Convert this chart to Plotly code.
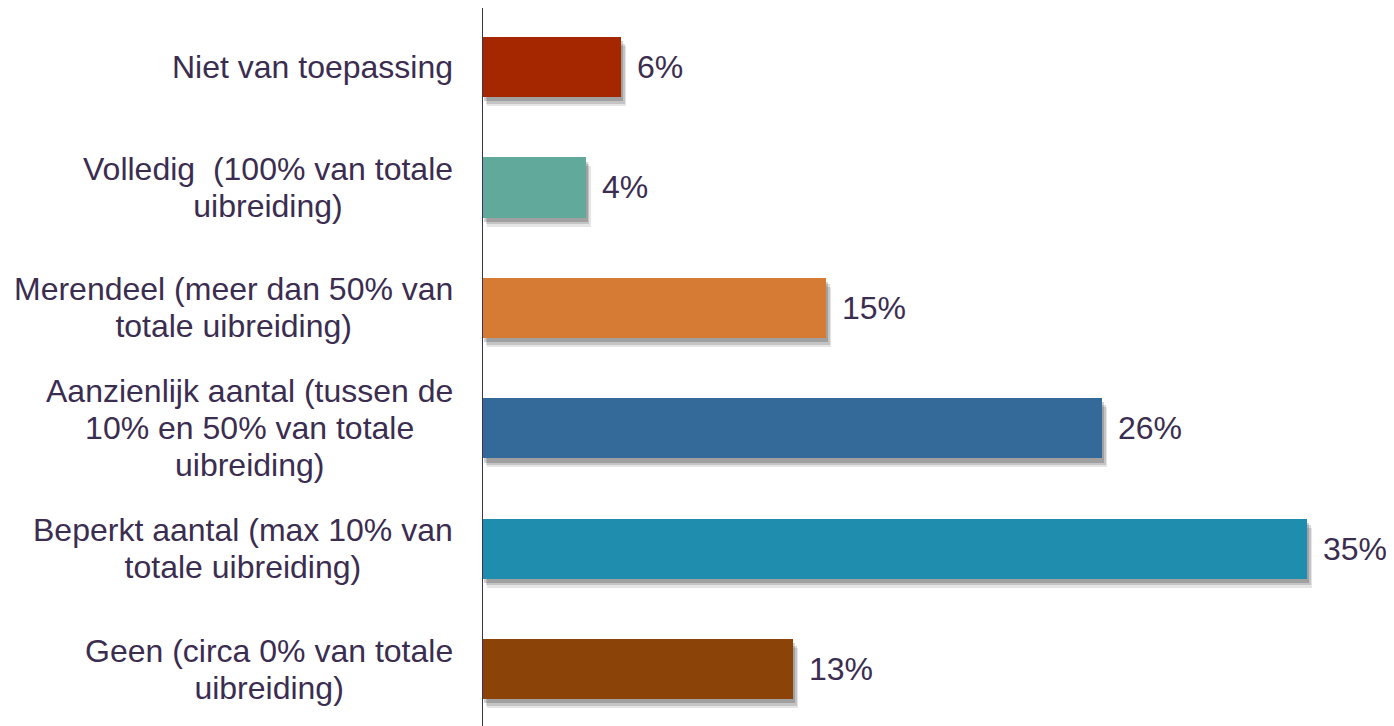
import plotly.graph_objects as go

categories = [
    "Niet van toepassing",
    "Volledig  (100% van totale<br>uibreiding)",
    "Merendeel (meer dan 50% van<br>totale uibreiding)",
    "Aanzienlijk aantal (tussen de<br>10% en 50% van totale<br>uibreiding)",
    "Beperkt aantal (max 10% van<br>totale uibreiding)",
    "Geen (circa 0% van totale<br>uibreiding)",
]
values = [5.9, 4.4, 14.6, 26.3, 35.0, 13.2]
value_labels = ["6%", "4%", "15%", "26%", "35%", "13%"]
colors = ["#A52700", "#60A99B", "#D67B33", "#336A99", "#1F8DAD", "#8B4308"]

TEXT = "#3B2D4F"
FONT = "Liberation Sans, Arial, sans-serif"
FS = 32          # glyph size
LINE_FS = 28.5   # base size controlling line spacing (1.3em -> ~37px)

idx = list(range(len(categories)))

fig = go.Figure()
# soft drop shadow layers
for alpha, dx, dy in [(0.10, 0.22, 0.075), (0.14, 0.16, 0.055), (0.18, 0.10, 0.035)]:
    fig.add_trace(go.Bar(
        y=[i + dy for i in idx], x=values, base=dx, orientation="h", width=0.5,
        marker=dict(color=f"rgba(0,0,0,{alpha})", line=dict(width=0)),
        hoverinfo="skip", showlegend=False,
    ))
fig.add_trace(go.Bar(
    y=idx, x=values, orientation="h", width=0.5,
    marker=dict(color=colors, line=dict(width=0)),
    showlegend=False,
))


def styled(text):
    return "<br>".join(f"<span style='font-size:{FS}px'>{ln}</span>" for ln in text.split("<br>"))


annotations = []
for i, (cat, v, lab) in enumerate(zip(categories, values, value_labels)):
    annotations.append(dict(
        x=0, y=i, xref="x", yref="y", text=styled(cat), showarrow=False,
        xanchor="right", yanchor="middle", align="center", xshift=-27,
        font=dict(family=FONT, size=LINE_FS, color=TEXT),
    ))
    annotations.append(dict(
        x=v, y=i, xref="x", yref="y", text=lab, showarrow=False,
        xanchor="left", yanchor="middle", xshift=14,
        font=dict(family=FONT, size=FS, color=TEXT),
    ))

fig.update_layout(
    width=1386, height=718,
    margin=dict(l=474, r=0, t=0, b=0),
    paper_bgcolor="white", plot_bgcolor="white",
    barmode="overlay", bargap=0,
    xaxis=dict(range=[0, 38.7], showgrid=False, zeroline=False, showticklabels=False,
               showline=False, fixedrange=True),
    yaxis=dict(range=[5.473, -0.49], showgrid=False, zeroline=False, showticklabels=False,
               showline=False, ticks="", fixedrange=True),
    shapes=[dict(type="line", xref="x", yref="paper", x0=0, x1=0, y0=0, y1=1,
                 line=dict(color="#3F3158", width=2))],
    annotations=annotations,
)

fig.write_html("out.html")
